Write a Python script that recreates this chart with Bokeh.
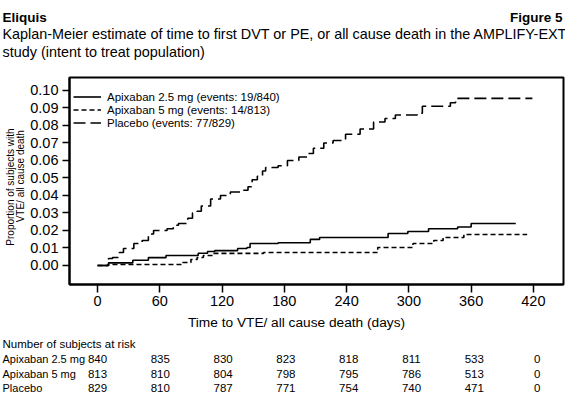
import math
from bokeh.plotting import figure
from bokeh.layouts import column, row
from bokeh.models import Legend, LegendItem, FixedTicker, Range1d, ColumnDataSource
from bokeh.core.properties import value
from bokeh.embed import file_html
from bokeh.resources import INLINE

FONT = "Liberation Sans"

# ---------------- data ----------------
apx25_days = [0, 10.6, 34, 49, 66, 97, 106, 113, 135, 144, 147, 174, 205, 214, 280, 299, 319, 347, 360, 403]
apx25_prob = [0, 0.0015, 0.003, 0.0045, 0.0057, 0.007, 0.008, 0.0085, 0.0097, 0.0103, 0.0126, 0.013,
              0.0149, 0.016, 0.0183, 0.0194, 0.021, 0.022, 0.024, 0.024]

apx5_days = [0, 10, 82, 90, 96, 102, 111, 160, 270, 304, 324, 333, 353, 414]
apx5_prob = [0, 0.0006, 0.0017, 0.0034, 0.0046, 0.0057, 0.0069, 0.0074, 0.0103, 0.0126, 0.0143,
             0.016, 0.0177, 0.0177]

plac_days = [0, 10.6, 14.5, 21, 25, 35, 43, 49, 54, 67, 73, 78, 87, 91.5, 96, 100, 109, 118.5, 128,
             140, 145, 149, 154, 159, 162, 174, 183, 194, 202, 208, 218, 227, 239, 253, 266, 277,
             287, 308, 313, 340, 345, 419]
plac_prob = [0, 0.004, 0.0046, 0.0074, 0.0097, 0.0126, 0.0143, 0.018, 0.020, 0.021, 0.023, 0.024,
             0.027, 0.030, 0.031, 0.034, 0.038, 0.040, 0.042, 0.043, 0.045, 0.049, 0.051, 0.054,
             0.056, 0.057, 0.060, 0.062, 0.064, 0.067, 0.070, 0.0714, 0.075, 0.078, 0.082, 0.084,
             0.086, 0.087, 0.091, 0.093, 0.0955, 0.0955]

legend_labels = ["Apixaban 2.5 mg (events: 19/840)",
                 "Apixaban 5 mg (events: 14/813)",
                 "Placebo (events: 77/829)"]

x_ticks = [0, 60, 120, 180, 240, 300, 360, 420]
y_ticks = [0.00, 0.01, 0.02, 0.03, 0.04, 0.05, 0.06, 0.07, 0.08, 0.09, 0.10]
y_tick_labels = ["0.00", "0.01", "0.02", "0.03", "0.04", "0.05", "0.06", "0.07", "0.08", "0.09", "0.10"]

risk_groups = ["Apixaban 2.5 mg", "Apixaban 5 mg", "Placebo"]
risk_apx25 = [840, 835, 830, 823, 818, 811, 533, 0]
risk_apx5 = [813, 810, 804, 798, 795, 786, 513, 0]
risk_plac = [829, 810, 787, 771, 754, 740, 471, 0]

title_main = "Eliquis"
title_fig = "Figure 5"
subtitle_1 = "Kaplan-Meier estimate of time to first DVT or PE, or all cause death in the AMPLIFY-EXT"
subtitle_2 = "study (intent to treat population)"
x_title = "Time to VTE/ all cause death (days)"
y_title_1 = "Proportion of subjects with"
y_title_2 = "VTE/ all cause death"
risk_title = "Number of subjects at risk"

# ---------------- layout geometry (pixels) ----------------
W = 565
TOP_H = 70          # title band
MAIN_H = 244        # plot band
BOT_H = 82          # x title + risk table band
LEFT_W = 25         # y title band


def blank(width, height):
    f = figure(width=width, height=height, output_backend="svg", toolbar_location=None,
               x_range=Range1d(0, width), y_range=Range1d(height, 0),
               x_axis_type=None, y_axis_type=None, min_border=0)
    f.grid.visible = False
    f.outline_line_color = None
    f.background_fill_color = "white"
    f.border_fill_color = "white"
    return f


def put(f, txt, x, y, size, align="left", baseline="middle", bold=False, angle=0.0):
    f.text(x=[x], y=[y], text=[txt], text_font=value(FONT), text_font_size=size,
           text_align=align, text_baseline=baseline, text_color="black",
           text_font_style="bold" if bold else "normal", angle=angle)


# ---------------- title band ----------------
top = blank(W, TOP_H)
put(top, title_main, 2, 16.5, "13.5px", baseline="alphabetic", bold=True)
put(top, title_fig, 562, 16.5, "13.5px", align="right", baseline="alphabetic", bold=True)
put(top, subtitle_1, 2, 33, "14.4px", baseline="alphabetic")
put(top, subtitle_2, 2, 51, "14.4px", baseline="alphabetic")

# ---------------- y title band ----------------
left = blank(LEFT_W, MAIN_H)
put(left, y_title_1, 10, 60, "10px", align="right", angle=math.pi / 2)
put(left, y_title_2, 20, 62, "10px", align="right", angle=math.pi / 2)

# ---------------- main plot ----------------
p = figure(width=W - LEFT_W, height=MAIN_H, output_backend="svg", toolbar_location=None,
           x_range=Range1d(-27, 449), y_range=Range1d(-0.01086, 0.1074),
           min_border_left=44, min_border_right=2, min_border_top=7, min_border_bottom=30)
p.background_fill_color = "white"
p.border_fill_color = "white"
p.outline_line_color = "black"
p.outline_line_width = 2
p.grid.visible = False

for ax in (p.xaxis, p.yaxis):
    ax.axis_line_color = "black"
    ax.axis_line_width = 2
    ax.major_tick_line_color = "black"
    ax.major_tick_line_width = 1.5
    ax.major_tick_in = 0
    ax.minor_tick_line_color = None
    ax.major_label_text_font = FONT
    ax.major_label_text_font_size = "14.5px"
    ax.major_label_text_color = "black"

p.xaxis.ticker = FixedTicker(ticks=x_ticks)
p.xaxis.major_tick_out = 8
p.xaxis.major_label_standoff = 3
p.yaxis.ticker = FixedTicker(ticks=y_ticks)
p.yaxis.major_label_overrides = {t: s for t, s in zip(y_ticks, y_tick_labels)}
p.yaxis.major_tick_out = 7
p.yaxis.major_label_standoff = 4

src25 = ColumnDataSource(dict(d=apx25_days, p=apx25_prob))
src5 = ColumnDataSource(dict(d=apx5_days, p=apx5_prob))
srcp = ColumnDataSource(dict(d=plac_days, p=plac_prob))

r25 = p.step("d", "p", source=src25, mode="after", line_color="black", line_width=1.6)
r5 = p.step("d", "p", source=src5, mode="after", line_color="black", line_width=1.6,
            line_dash="5 3")
rp = p.step("d", "p", source=srcp, mode="after", line_color="black", line_width=1.6,
            line_dash="12 5")

legend = Legend(items=[LegendItem(label=legend_labels[0], renderers=[r25]),
                       LegendItem(label=legend_labels[1], renderers=[r5]),
                       LegendItem(label=legend_labels[2], renderers=[rp])],
                location=(4, 155), orientation="vertical")
legend.background_fill_alpha = 0
legend.border_line_alpha = 0
legend.margin = 0
legend.padding = 0
legend.spacing = 0
legend.glyph_width = 28
legend.glyph_height = 13
legend.label_height = 13
legend.label_standoff = 6
legend.label_text_font = FONT
legend.label_text_font_size = "11.5px"
legend.label_text_color = "black"
legend.label_text_baseline = "middle"
p.add_layout(legend, "center")

# ---------------- bottom band ----------------
bot = blank(W, BOT_H)
put(bot, x_title, 296, 8, "13.7px", align="center")
put(bot, risk_title, 2, 29, "11.5px")
row_y = [44, 59, 73]
for name, vals, yy in zip(risk_groups, [risk_apx25, risk_apx5, risk_plac], row_y):
    put(bot, name, 2, yy, "11px")
    for i, v in enumerate(vals):
        put(bot, str(v), 97 + i * 62.8, yy, "11.5px", align="center")

layout = column(top, row(left, p), bot)
open("out.html", "w").write(file_html(layout, INLINE))
